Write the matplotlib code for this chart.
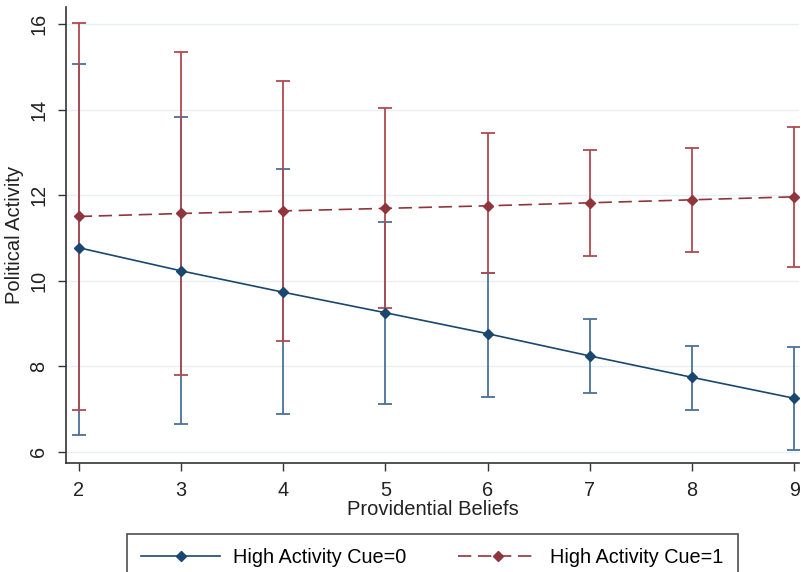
import numpy as np
import matplotlib
matplotlib.use("Agg")
import matplotlib.pyplot as plt

plt.rcParams['font.family'] = ['Liberation Sans', 'DejaVu Sans']

# Providential beliefs (x) and predicted political activity
beliefs = [2, 3, 4, 5, 6, 7, 8, 9]

cue0_mean = [10.77, 10.23, 9.73, 9.25, 8.76, 8.24, 7.74, 7.25]
cue0_low = [6.39, 6.65, 6.88, 7.11, 7.28, 7.37, 6.98, 6.03]
cue0_high = [15.06, 13.82, 12.60, 11.36, 10.18, 9.10, 8.48, 8.45]

cue1_mean = [11.50, 11.57, 11.63, 11.69, 11.75, 11.82, 11.89, 11.96]
cue1_low = [6.98, 7.79, 8.58, 9.36, 10.19, 10.57, 10.67, 10.32]
cue1_high = [16.03, 15.35, 14.67, 14.04, 13.45, 13.06, 13.10, 13.59]

yticks = [6, 8, 10, 12, 14, 16]

blue = '#1a476f'
blue_ci = '#4a7299'
red = '#90353b'
red_ci = '#b04a51'

fig = plt.figure(figsize=(8.01, 5.72), dpi=100)
ax = fig.add_axes([0.083, 0.19, 0.915, 0.798])

x = np.array(beliefs)

# confidence intervals
ax.errorbar(x, cue0_mean,
            yerr=[np.array(cue0_mean) - np.array(cue0_low), np.array(cue0_high) - np.array(cue0_mean)],
            fmt='none', ecolor=blue_ci, elinewidth=1.3, capsize=5, capthick=1.3, zorder=2)
ax.errorbar(x, cue1_mean,
            yerr=[np.array(cue1_mean) - np.array(cue1_low), np.array(cue1_high) - np.array(cue1_mean)],
            fmt='none', ecolor=red_ci, elinewidth=1.3, capsize=5, capthick=1.3, zorder=2)

# predicted lines
l0, = ax.plot(x, cue0_mean, color=blue, lw=1.2, marker='D', markersize=5, zorder=3,
              label='High Activity Cue=0')
l1, = ax.plot(x, cue1_mean, color=red, lw=1.2, marker='D', markersize=5, zorder=3,
              dashes=(8, 4), label='High Activity Cue=1')

ax.set_xlim(1.88, 9.05)
ax.set_ylim(5.73, 16.4)
ax.set_xticks(beliefs)
ax.set_yticks(yticks)
ax.yaxis.grid(True, color='#e6eff1', lw=1)
ax.set_axisbelow(True)

for s in ['top', 'right']:
    ax.spines[s].set_visible(False)
for s in ['left', 'bottom']:
    ax.spines[s].set_color('#333333')
    ax.spines[s].set_linewidth(1.2)

ax.tick_params(axis='both', direction='out', length=6, width=1, color='#333333',
               labelsize=14.3, labelcolor='#222222', pad=7)
for lab in ax.get_yticklabels():
    lab.set_rotation(90)
    lab.set_va('center')

ax.set_xlabel('Providential Beliefs', fontsize=14.5, color='#222222', labelpad=0)
ax.set_ylabel('Political Activity', fontsize=14.5, color='#222222', labelpad=4)

leg = fig.legend(handles=[l0, l1], loc='upper left', bbox_to_anchor=(127 / 801, 1 - 534 / 572),
                 borderaxespad=0, ncol=2, fontsize=14.3, handlelength=4, handletextpad=0.65,
                 columnspacing=2.6, borderpad=0.7, fancybox=False, frameon=True)
leg.get_frame().set_edgecolor('#222222')
leg.get_frame().set_linewidth(1.2)

fig.savefig('out.png', dpi=100)
